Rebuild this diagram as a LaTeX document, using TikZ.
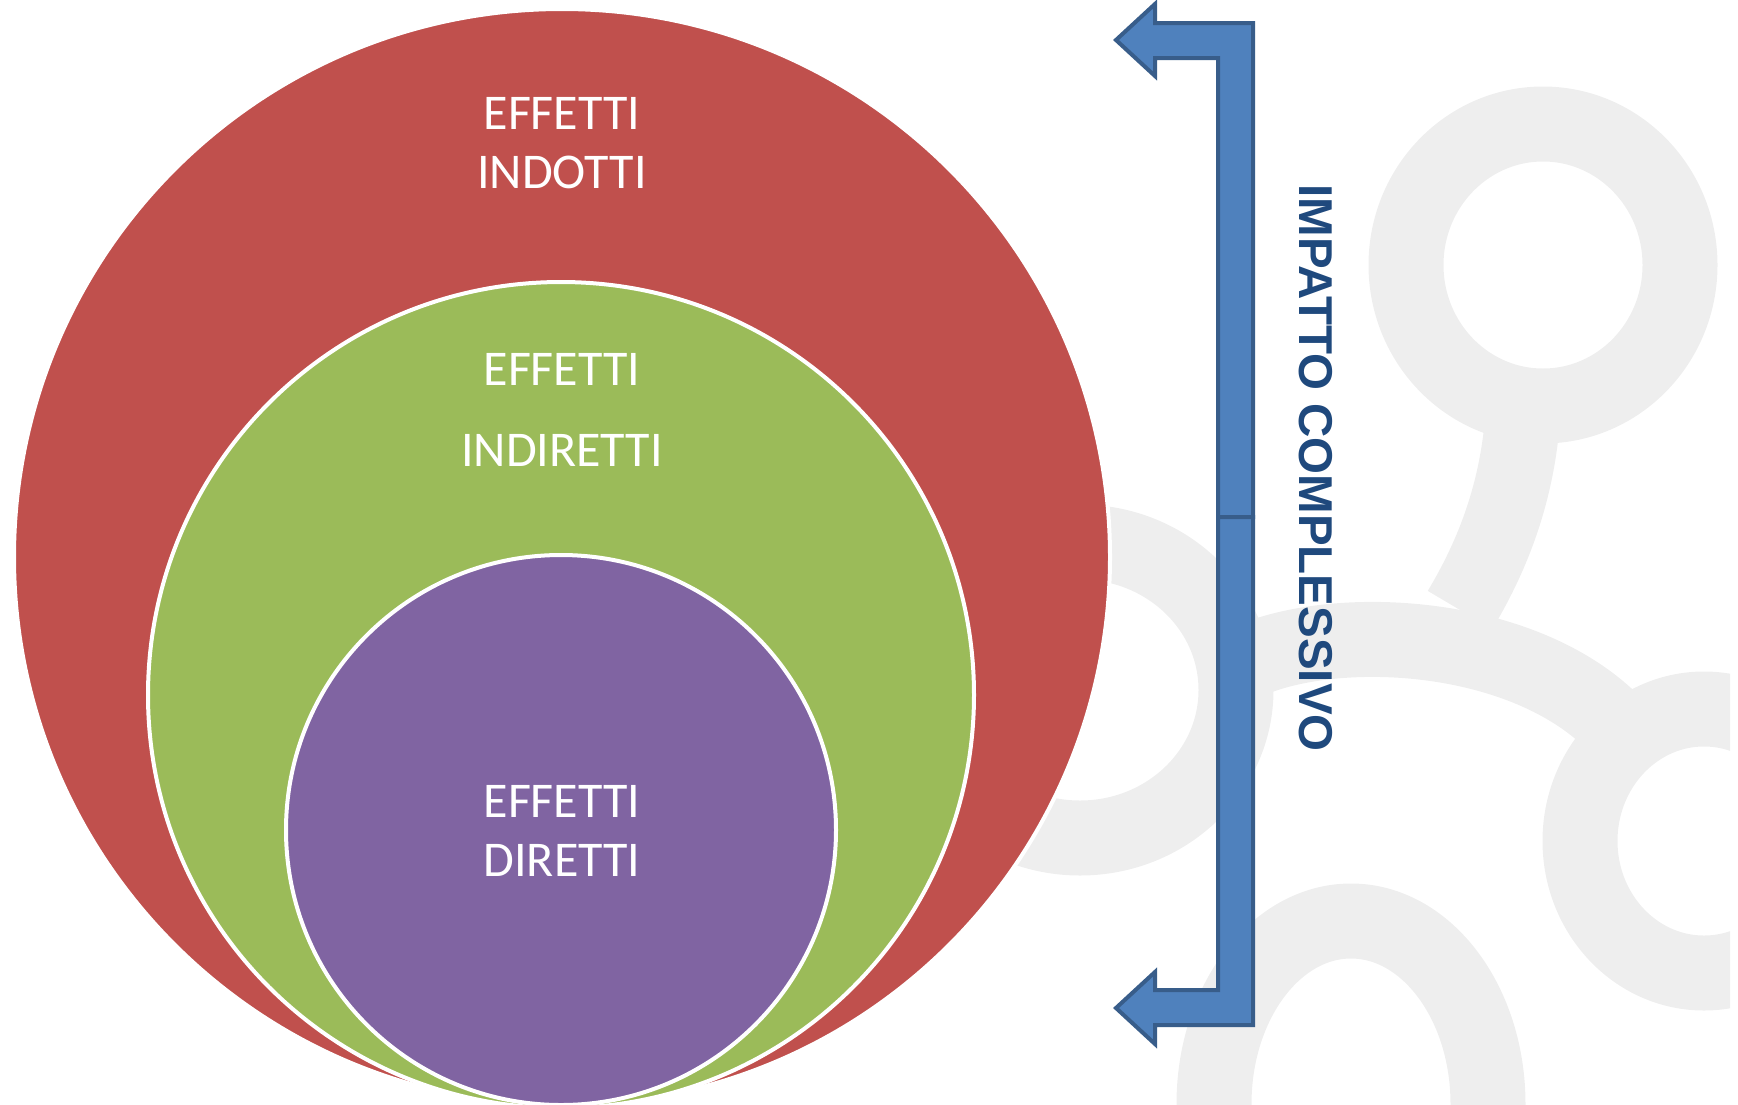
\documentclass[tikz,border=0pt]{standalone}
\usepackage{fontspec}
\setmainfont{Carlito}
\newfontfamily\arialfont{Liberation Sans}
\usetikzlibrary{positioning}
\definecolor{rosso}{HTML}{C0504D}
\definecolor{verde}{HTML}{9BBB59}
\definecolor{viola}{HTML}{8064A2}
\definecolor{blu}{HTML}{4F81BD}
\definecolor{blubordo}{HTML}{385D8A}
\definecolor{blutesto}{HTML}{1F497D}
\definecolor{grigio}{HTML}{EEEEEE}

\begin{document}
\begin{tikzpicture}[x=1pt, y=-1pt,
  cerchio/.style={circle, draw=white, line width=4pt, inner sep=0pt},
  etichetta/.style={text=white, align=center, font=\fontsize{50}{59}\selectfont},
  freccia/.style={fill=blu, draw=blubordo, line width=4pt, line join=miter},
  filigrana/.style={draw=grigio, line width=75pt}]
\useasboundingbox (0,0) rectangle (1738,1104);
% logo in filigrana
\begin{scope}
\clip (0,0) rectangle (1730,1104);
\draw[filigrana] (1543,265) ellipse [x radius=137, y radius=141];
\draw[filigrana] (1522,425) .. controls (1515,500) and (1490,560) .. (1460,610);
\draw[filigrana] (1240,665) .. controls (1330,620) and (1530,630) .. (1620,730);
\draw[filigrana] (1080,690) ellipse [x radius=156, y radius=148];
\draw[filigrana] (1704,841) ellipse [x radius=124, y radius=132];
\draw[filigrana] (1351,1104) ellipse [x radius=137, y radius=183];
\end{scope}
% frecce
\draw[freccia] (1116,40) -- (1155,4) -- (1155,23) -- (1253,23) -- (1253,517)
  -- (1218,517) -- (1218,58) -- (1155,58) -- (1155,76) -- cycle;
\draw[freccia] (1253,517) -- (1253,1025) -- (1155,1025) -- (1155,1044)
  -- (1116,1008) -- (1155,972) -- (1155,990) -- (1218,990) -- (1218,517) -- cycle;
\node[rotate=-90, text=blutesto, font=\arialfont\bfseries\fontsize{47.5}{50}\selectfont]
  (impatto) at (1315.5,468) {IMPATTO COMPLESSIVO};
% cerchi
\node[cerchio, fill=rosso, minimum size=1096pt] (indotti) at (562,557) {};
\node[cerchio, fill=verde, minimum size=826pt] (indiretti) at (561,695) {};
\node[cerchio, fill=viola, minimum size=550pt] (diretti) at (561,830) {};
\node[etichetta] (tindotti) at (562,143) {EFFETTI\\INDOTTI};
\node[etichetta, font=\fontsize{50}{81}\selectfont] (tindiretti) at (562,410) {EFFETTI\\INDIRETTI};
\node[etichetta] (tdiretti) at (562,830.5) {EFFETTI\\DIRETTI};
\end{tikzpicture}
\end{document}
